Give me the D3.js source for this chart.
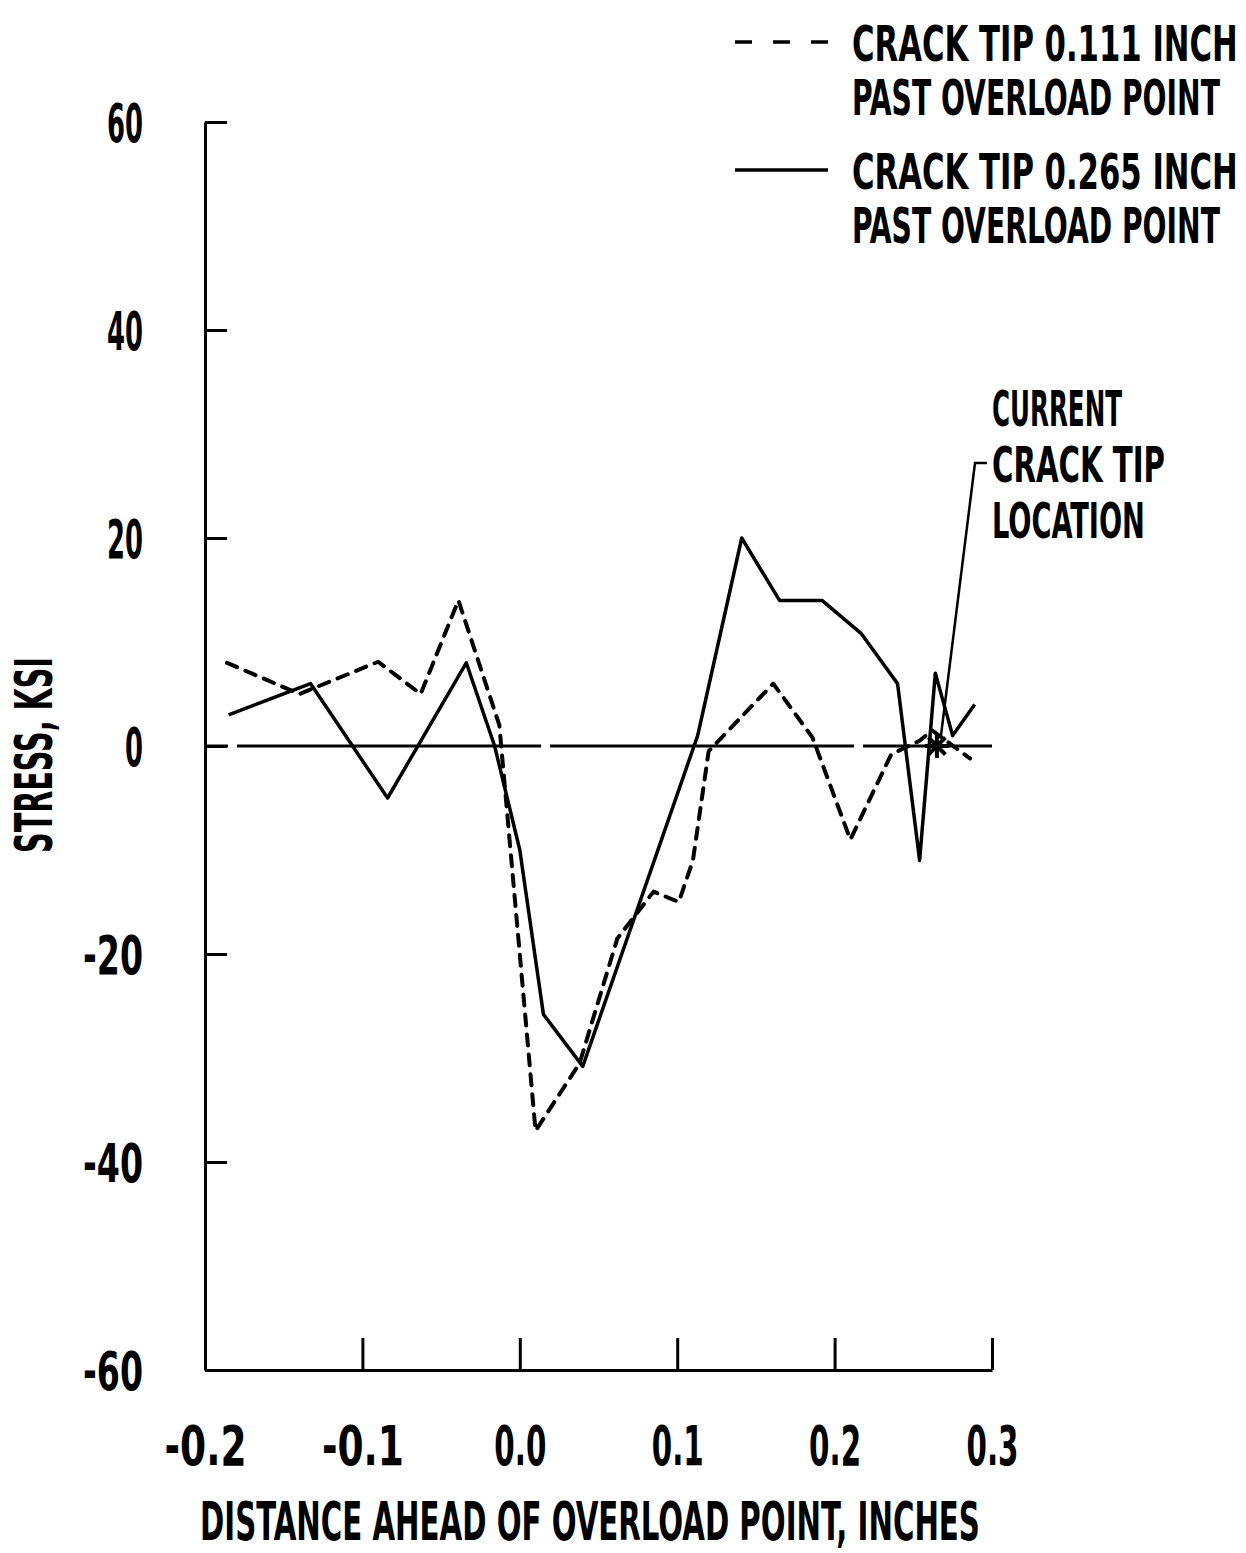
<!DOCTYPE html>
<html>
<head>
<meta charset="utf-8">
<script src="https://cdn.jsdelivr.net/npm/d3@7"></script>
<style>
  body { margin: 0; background: #fff; }
  text {
    font-family: "DejaVu Sans Condensed", "Liberation Sans Narrow", sans-serif;
    font-weight: bold;
    fill: #000;
  }
</style>
</head>
<body>
<div id="chart"></div>
<script>
// stress ahead of the overload point
var tip111X = [-0.186, -0.140, -0.090, -0.063, -0.039, -0.013, 0.010, 0.038, 0.062, 0.085, 0.101, 0.110, 0.120, 0.161, 0.186, 0.210, 0.236, 0.254, 0.262, 0.286];
var tip111Y = [8, 5, 8.1, 5, 14, 2, -37, -30.5, -18.5, -14, -15, -11, -0.5, 6, 0.8, -9, -0.8, 0.5, 1.5, -1.2];

var tip265X = [-0.185, -0.133, -0.084, -0.034, -0.016, 0.000, 0.015, 0.040, 0.113, 0.141, 0.165, 0.192, 0.217, 0.240, 0.254, 0.264, 0.275, 0.289];
var tip265Y = [3, 6, -5, 8, 0, -10, -25.8, -30.8, 1, 20, 14, 14, 10.8, 6, -11, 7, 1, 4];

var crackTip = [0.265, 0];

var xTicks = [-0.2, -0.1, 0.0, 0.1, 0.2, 0.3];
var xTickLabels = ["-0.2", "-0.1", "0.0", "0.1", "0.2", "0.3"];
var yTicks = [-60, -40, -20, 0, 20, 40, 60];
var yTickLabels = ["-60", "-40", "-20", "0", "20", "40", "60"];

var legendLabels = [
  ["CRACK TIP 0.111 INCH", "PAST OVERLOAD POINT"],
  ["CRACK TIP 0.265 INCH", "PAST OVERLOAD POINT"]
];
var noteLines = ["CURRENT", "CRACK TIP", "LOCATION"];
var xTitle = "DISTANCE AHEAD OF OVERLOAD POINT, INCHES";
var yTitle = "STRESS, KSI";

// squeeze text sideways to a given width (the plot font is very narrow)
function squeeze(sel, widthFn, extra) {
  sel.each(function(d, i) {
    var t = d3.select(this);
    var k = widthFn(d, i) / this.getComputedTextLength();
    var tx = +t.attr("x") || 0, ty = +t.attr("y") || 0;
    t.attr("x", 0).attr("y", 0)
      .attr("transform", "translate(" + tx + "," + ty + ")" + (extra || "") + " scale(" + k + ",1)");
  });
}

window.onload = () => {
  var W = 1246, H = 1553;

  var x = d3.scaleLinear().domain([-0.2, 0.3]).range([205, 992]);
  var y = d3.scaleLinear().domain([-60, 60]).range([1370, 122]);

  var svg = d3.select("#chart").append("svg")
    .attr("width", W)
    .attr("height", H);

  // axes
  var yAxis = svg.append("g")
    .attr("transform", "translate(" + x(-0.2) + ",0)")
    .call(d3.axisLeft(y)
      .tickValues(yTicks)
      .tickSize(-22)
      .tickSizeOuter(0)
      .tickPadding(62)
      .tickFormat((d, i) => yTickLabels[i]));

  yAxis.selectAll("text")
    .attr("dy", null)
    .attr("y", 19)
    .attr("font-size", 53)
    .call(squeeze, d => (d < 0 ? 60 : (d === 0 ? 18 : 36)));

  var xAxis = svg.append("g")
    .attr("transform", "translate(0," + y(-60) + ")")
    .call(d3.axisBottom(x)
      .tickValues(xTicks)
      .tickSize(-32)
      .tickSizeOuter(0)
      .tickPadding(0)
      .tickFormat((d, i) => xTickLabels[i]));

  xAxis.selectAll("text")
    .attr("dy", null)
    .attr("y", 95)
    .attr("font-size", 55)
    .call(squeeze, d => (d < 0 ? 82 : 52));

  svg.selectAll(".domain, .tick line")
    .attr("stroke", "#000")
    .attr("stroke-width", 3);

  // zero line
  svg.append("line")
    .attr("x1", x(-0.2))
    .attr("x2", x(0.3))
    .attr("y1", y(0))
    .attr("y2", y(0))
    .attr("stroke", "#000")
    .attr("stroke-width", 3)
    .attr("stroke-dasharray", "304 9")
    .attr("stroke-dashoffset", 281);

  var line = d3.line()
    .x(d => x(d[0]))
    .y(d => y(d[1]));

  var s111 = tip111X.map((v, i) => [v, tip111Y[i]]);
  var s265 = tip265X.map((v, i) => [v, tip265Y[i]]);

  svg.append("path")
    .datum(s111)
    .attr("d", line)
    .attr("fill", "none")
    .attr("stroke", "#000")
    .attr("stroke-width", 4)
    .attr("stroke-linecap", "round")
    .attr("stroke-linejoin", "round")
    .attr("stroke-dasharray", "11 9");

  svg.append("path")
    .datum(s265)
    .attr("d", line)
    .attr("fill", "none")
    .attr("stroke", "#000")
    .attr("stroke-width", 3.5)
    .attr("stroke-linejoin", "round");

  // crack tip marker
  var cx = x(crackTip[0]), cy = y(crackTip[1]);
  var star = svg.append("g").attr("transform", "translate(" + cx + "," + cy + ")");
  [0, 45, 90, 135].forEach(a => {
    var r = 12, t = a * Math.PI / 180;
    star.append("line")
      .attr("x1", -r * Math.cos(t)).attr("y1", -r * Math.sin(t))
      .attr("x2", r * Math.cos(t)).attr("y2", r * Math.sin(t))
      .attr("stroke", "#000")
      .attr("stroke-width", 4);
  });

  // note + leader
  svg.append("g").selectAll("text")
    .data(noteLines)
    .enter().append("text")
    .attr("x", 992)
    .attr("y", (d, i) => 426 + i * 56)
    .attr("font-size", 50)
    .text(d => d)
    .call(squeeze, (d, i) => [130, 173, 153][i]);

  svg.append("path")
    .attr("d", "M987,463 L975,463 L" + (cx + 4) + "," + (cy - 10))
    .attr("fill", "none")
    .attr("stroke", "#000")
    .attr("stroke-width", 2.5);

  // legend
  var legend = svg.append("g");
  [42, 170].forEach((ly, k) => {
    legend.append("line")
      .attr("x1", 735).attr("x2", 828)
      .attr("y1", ly).attr("y2", ly)
      .attr("stroke", "#000")
      .attr("stroke-width", 3.5)
      .attr("stroke-dasharray", k === 0 ? "17 21" : null);
    legend.selectAll(null)
      .data(legendLabels[k])
      .enter().append("text")
      .attr("x", 852)
      .attr("y", (t, j) => ly + 19 + j * 54)
      .attr("font-size", 50)
      .text(t => t)
      .call(squeeze, (t, j) => (j === 0 ? 386 : 368));
  });

  // axis titles
  svg.append("text")
    .attr("x", 590)
    .attr("y", 1540)
    .attr("text-anchor", "middle")
    .attr("font-size", 54)
    .text(xTitle)
    .call(squeeze, () => 780);

  svg.append("text")
    .attr("x", 52)
    .attr("y", 755)
    .attr("text-anchor", "middle")
    .attr("font-size", 52)
    .text(yTitle)
    .call(squeeze, () => 196, " rotate(-90)");
};
</script>
</body>
</html>
